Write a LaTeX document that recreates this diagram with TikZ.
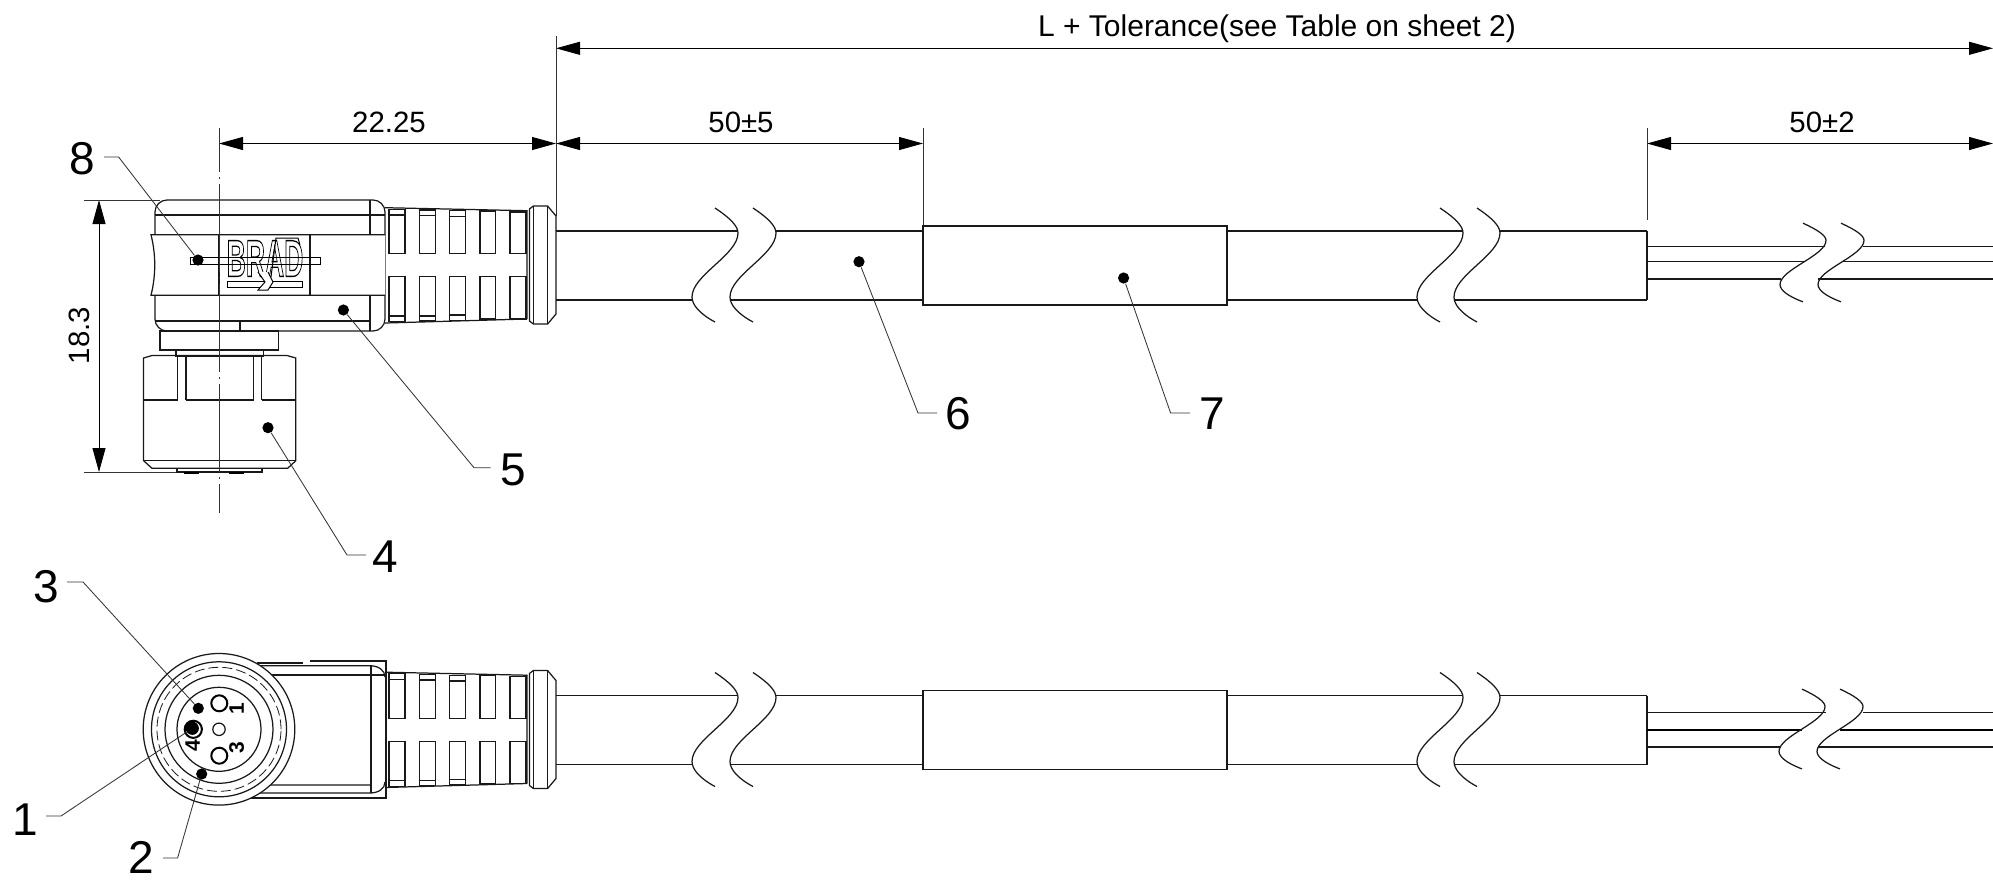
\documentclass[tikz,border=0pt]{standalone}
\usepackage{fontspec}
\setmainfont{Liberation Sans}
\usetikzlibrary{arrows.meta}

\tikzset{
  part/.style={line width=.62pt, black!90},
  dimline/.style={line width=.45pt, black, {Triangle[length=12pt,width=6.5pt]}-{Triangle[length=12pt,width=6.5pt]}},
  witness/.style={line width=.45pt, black!80},
  leader/.style={line width=.42pt, black!80},
  axisline/.style={line width=.4pt, black!80, dash pattern=on 44pt off 2.5pt on 1pt off 2.5pt, dash phase=22pt},
  dot/.style={circle, fill=black, inner sep=0pt, minimum size=5.6pt},
  num/.style={font=\fontsize{23}{25}\selectfont, inner sep=0pt},
  dimtext/.style={font=\fontsize{14.7}{16}\selectfont, inner sep=0pt},
  pinno/.style={font=\bfseries\fontsize{10.5}{11}\selectfont, inner sep=0pt, rotate=90},
}

% wavy cut mark: x, middle y, height factor
\newcommand\cutmark[3]{
  \draw[part, shift={(#1,#2)}, yscale=#3] (0,-57) .. controls (15,-47) and (23,-39) .. (23,-32)
    .. controls (23,-10) and (-23,10) .. (-23,32) .. controls (-23,40) and (-15,49) .. (0,57);
}
% grip, collar, cable and sleeve, the same in both views
\newcommand\gripcable{
  \draw[part] (385,207.7) -- (527,210.7) (385,323) -- (527,319);
  \foreach \xa/\xb/\ya/\yb in {389/405/209.3/321.7, 419.5/435.4/210/321, 449.6/465.5/210.7/320.3, 480/495.6/211/319, 510/526/212/319} {
    \draw[part] (\xa,\ya) rectangle (\xb,253.7);
    \draw[part] (\xa,276.7) rectangle (\xb,\yb);
  }
  \foreach \xa/\xb/\ya/\yb in {389/405/215/316, 419.5/435.4/215.5/316, 449.6/465.5/216.5/315} {
    \draw[part] (\xa,\ya) -- (\xb,\ya) (\xa,\yb) -- (\xb,\yb);
  }
  \draw[part] (527,210) -- (527,319) (529.4,209) -- (533.4,206) -- (547.6,206) -- (556,216) -- (556,314)
    -- (547.6,324) -- (533.4,324) -- (529.4,321) -- cycle;
  \draw[part] (533.4,206) -- (533.4,324) (547.6,206) -- (547.6,324);
  \draw[part] (556,231) -- (738,231) (776,231) -- (923,231) (1227,231) -- (1462,231) (1500,231) -- (1647,231);
  \draw[part] (556,300) -- (692,300) (730,300) -- (923,300) (1227,300) -- (1417,300) (1455,300) -- (1647,300);
  \draw[part] (923,226) rectangle (1227,305);
  \draw[part] (1647,231) -- (1647,300);
  \foreach \x in {715,753,1440,1477} {\cutmark{\x}{265}{1}}
}

\begin{document}
\begin{tikzpicture}[x=.5pt, y=-.5pt]
  \useasboundingbox (0,0) rectangle (1993,879);

  % dimensions
  \coordinate (la) at (556,48.3);
  \coordinate (lb) at (1993,48.3);
  \coordinate (ca) at (219,143.5);
  \coordinate (cb) at (556,143.5);
  \coordinate (sb) at (923,143.5);
  \coordinate (ea) at (1647,143.5);
  \coordinate (eb) at (1993,143.5);
  \coordinate (ha) at (99,200);
  \coordinate (hb) at (99,472);
  \draw[dimline] (la) -- (lb);
  \draw[dimline] (ca) -- (cb);
  \draw[dimline] (cb) -- (sb);
  \draw[dimline] (ea) -- (eb);
  \draw[dimline] (ha) -- (hb);
  \node[dimtext, font=\fontsize{15}{16}\selectfont] (ltext) at (1277,29) {L + Tolerance(see Table on sheet 2)};
  \node[dimtext] (ctext) at (389,122.5) {22.25};
  \node[dimtext] (stext) at (741,122.5) {50±5};
  \node[dimtext] (etext) at (1822,122.5) {50±2};
  \node[dimtext, rotate=90] (htext) at (79,335.5) {18.3};
  \draw[witness] (556,36) -- (556,216);
  \draw[witness] (923,128) -- (923,226);
  \draw[witness] (1647,128) -- (1647,220);
  \draw[witness] (84,200) -- (160,200);
  \draw[witness] (84,472) -- (177,472);

  % side view
  \gripcable
  \draw[part, rounded corners=6pt] (155,234) -- (155,200) -- (385,200) -- (385,331) -- (155,331) -- (155,296);
  \draw[part] (155,215) -- (385,215) (370,200) -- (370,331);
  \draw[part] (155,321) -- (370,321) (240,321) -- (240,331);
  \draw[part, fill=white] (385,234.7) -- (151,234.7) .. controls (156,255) and (156,275) .. (151,295.3) -- (385,295.3);
  \draw[part] (310,234.7) -- (310,295.3) (219,234.7) -- (219,295.3);
  % logo
  \node[inner sep=0pt, transform shape, xscale=.51, font=\bfseries\fontsize{26}{28}\selectfont] (brad) at (265,258.5)
    {\special{pdf:code 1 Tr .65 w}BRAD\special{pdf:code 0 Tr}};
  \draw[line width=.5pt] (271,277) -- (276,238) -- (298,238) -- (300,245);
  \draw[line width=.5pt] (190,257) rectangle (320,264);
  \draw[line width=.5pt] (227,281) rectangle (302,287);
  \draw[line width=.5pt, fill=white] (258,272) -- (265,282) -- (258,290) -- (268,290) -- (273,282) -- (268,272);
  % nut
  \draw[part] (160,331) rectangle (278.5,350);
  \draw[part] (176,350) rectangle (263.6,356);
  \draw[part] (143.6,358) -- (152,355.5) -- (287,355.5) -- (295.8,358) -- (295.8,460.7) -- (287.7,468.3) -- (152,468.3) -- (143.6,460.7) -- cycle;
  \draw[part] (143.6,460.7) -- (295.8,460.7);
  \foreach \x in {177.8,186,253.5,261.6} {\draw[part] (\x,356.7) -- (\x,400);}
  \draw[part] (143.6,400) -- (177.8,400) (186,400) -- (253.5,400) (261.6,400) -- (295.8,400);
  \draw[part] (177,468.3) rectangle (262,472);
  \draw[line width=1pt] (183.5,472.5) -- (199,472.5) (229,472.5) -- (244,472.5);
  \draw[axisline] (219,128) -- (219,513);

  % end view
  \begin{scope}[shift={(0,464.5)}]
    \gripcable
  \end{scope}
  \draw[part] (257,663) -- (303,663) (310,661) -- (386,661) -- (386,798) -- (250,798);
  \draw[part] (250,665.7) -- (370,665.7) .. controls (378,665.7) and (385,670) .. (385,677);
  \draw[part] (260,675) -- (385,675) (371,665.7) -- (371,793);
  \draw[part] (260,785) -- (371,785) (250,793) -- (370,793) .. controls (378,793) and (385,789) .. (385,782);
  \draw[part, fill=white] (219,729.3) circle[radius=37.9pt];
  \draw[part] (219,729.3) circle[radius=33.75pt];
  \draw[part, line width=.4pt, dash pattern=on 5pt off 2pt] (219,729.3) circle[radius=31pt];
  \draw[part] (219,729.3) circle[radius=27pt];
  \draw[part] (219,729.3) circle[radius=21pt];
  \draw[part] (219,729.3) circle[radius=3.1pt];
  \draw[line width=1pt] (219.3,703.3) circle[radius=4pt];
  \draw[line width=1pt] (219.3,755.7) circle[radius=4pt];
  \draw[line width=1pt] (193.3,729.3) circle[radius=4.3pt];
  \node[pinno] (pin1) at (236.7,709) {1};
  \node[pinno] (pin3) at (236.7,748) {3};
  \node[pinno] (pin4) at (192.7,746) {4};
  % wires
  \draw[part] (1647,246.7) -- (1825,246.7) (1863,246.7) -- (1993,246.7);
  \draw[part] (1647,261.7) -- (1805,261.7) (1842,261.7) -- (1993,261.7);
  \draw[part] (1647,279) -- (1781,279) (1818,279) -- (1993,279);
  \cutmark{1803}{262.5}{.69}
  \cutmark{1841}{262.5}{.69}
  \draw[part] (1647,712.3) -- (1826,712.3) (1863,712.3) -- (1993,712.3);
  \draw[line width=1pt] (1647,730) -- (1802,730) (1840,730) -- (1993,730);
  \draw[part] (1647,747) -- (1780,747) (1818,747) -- (1993,747);
  \cutmark{1802}{729}{.7}
  \cutmark{1840}{729}{.7}

  % balloons
  \foreach \name/\tx/\ty/\ax/\ay/\bx/\dx/\dy in {
    8/82/159/104/157/118.6/198/260,
    5/513.5/470/490.5/467.7/474/343.4/310,
    4/385/556.5/366/555/347/268/427.7,
    6/958/414/937/413/918/859/261.7,
    7/1212.5/414/1190/413/1170.6/1123.6/278,
    3/46/587/67/582/83/198.3/708.3,
    2/141/857/163/858/177.6/201.7/774} {
    \node[num] (n\name) at (\tx,\ty) {\name};
    \node[dot] (d\name) at (\dx,\dy) {};
    \coordinate (a\name) at (\ax,\ay);
    \coordinate (b\name) at (\bx,\ay);
    \draw[leader] (a\name) -- (b\name) -- (d\name);
  }
  \node[num] (n1) at (25,819.5) {1};
  \node[dot, minimum size=6.6pt] (d1) at (192.3,728.3) {};
  \coordinate (a1) at (46,816);
  \coordinate (b1) at (61,816);
  \draw[leader] (a1) -- (b1) -- (d1);
\end{tikzpicture}
\end{document}
